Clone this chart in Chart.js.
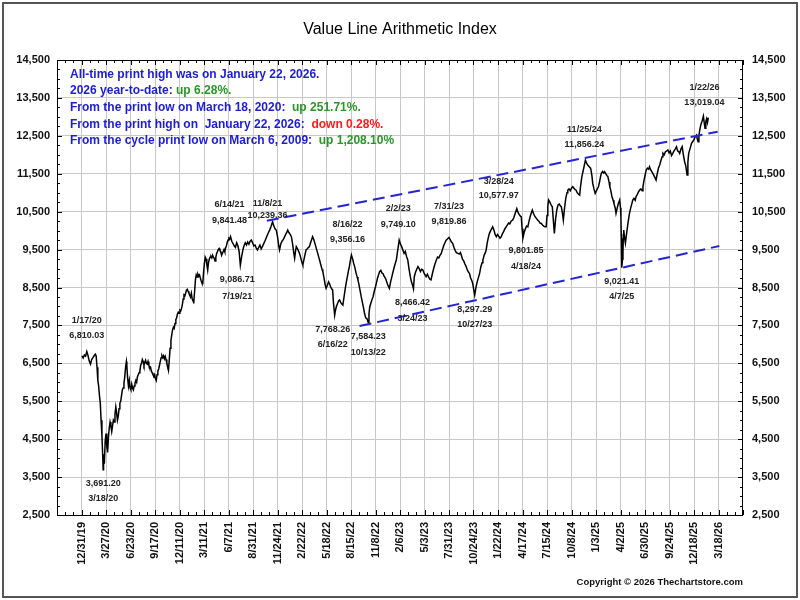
<!DOCTYPE html>
<html>
<head>
<meta charset="utf-8">
<title>Value Line Arithmetic Index</title>
<script src="https://cdn.jsdelivr.net/npm/chart.js@4.4.1/dist/chart.umd.min.js"></script>
<style>
  html, body { margin: 0; padding: 0; background: #fff; }
  canvas { display: block; }
</style>
</head>
<body>
<canvas id="chart" width="800" height="600"></canvas>
<script>
// x axis is counted in trading days from 12/31/19, one labelled tick every 60 sessions
const tickLabels = [
    '12/31/19', '3/27/20', '6/23/20', '9/17/20', '12/11/20', '3/11/21', '6/7/21',
    '8/31/21', '11/24/21', '2/22/22', '5/18/22', '8/15/22', '11/8/22', '2/6/23',
    '5/3/23', '7/31/23', '10/24/23', '1/22/24', '4/17/24', '7/15/24', '10/8/24',
    '1/3/25', '4/2/25', '6/30/25', '9/24/25', '12/18/25', '3/18/26'
];
const yTicks = [2500, 3500, 4500, 5500, 6500, 7500, 8500, 9500, 10500, 11500, 12500, 13500, 14500];

// index closes (trading day -> close)
const days2020a = [
    1, 4, 7, 10, 13, 16, 19, 22, 25, 28,
    31, 34, 36, 38, 40, 42, 44, 46, 48, 50,
    52, 53, 54, 56, 58, 60, 62, 64, 66, 68,
    70, 72, 74, 76, 78, 80, 82, 84, 86, 88,
    90, 92, 94, 96, 98, 100, 102, 104, 106, 108,
    110
];
const close2020a = [
    6700, 6640, 6720, 6690, 6810, 6700, 6560, 6480, 6600, 6650,
    6700, 6740, 6690, 6400, 6050, 5900, 5650, 5450, 5000, 4600,
    4050, 3691, 4100, 3850, 4450, 4650, 4300, 4150, 4550, 4800,
    4950, 4850, 4700, 4850, 5000, 4950, 5150, 5350, 5200, 5000,
    5100, 5300, 5450, 5500, 5650, 5800, 5850, 5980, 6150, 6400,
    6550
];
const days2020b = [
    111, 113, 115, 117, 119, 121, 123, 125, 127, 129,
    131, 133, 135, 137, 139, 141, 143, 145, 147, 149,
    151, 153, 155, 157, 159, 161, 163, 165, 167, 169,
    171, 173, 175, 177, 179, 181, 183, 185, 187, 189,
    191, 193, 195, 197, 199, 201, 203, 205, 207, 209,
    211, 213, 215, 217, 219, 221, 223, 225, 227, 229,
    231, 233, 235, 237, 239, 241, 243, 245, 247, 249,
    251, 253, 255, 257, 259, 261, 263, 265, 267, 269,
    271, 273, 275, 277, 279, 281, 283, 285, 287, 289,
    291, 293, 295, 297, 299, 301, 303, 305, 307, 309,
    311, 313, 315, 317, 319, 321, 323, 325, 327, 329,
    331, 333, 335, 337, 339, 341, 343, 345, 347, 349,
    351, 353, 355, 357, 359, 361, 363
];
const close2020b = [
    6450, 6100, 5900, 6050, 5850, 5800, 5950, 5850, 5800, 5900,
    5980, 6050, 6000, 6150, 6200, 6250, 6300, 6450, 6500, 6600,
    6550, 6450, 6520, 6580, 6500, 6480, 6550, 6450, 6380, 6400,
    6300, 6250, 6200, 6150, 6200, 6100, 6050, 6200, 6300, 6350,
    6450, 6550, 6650, 6700, 6650, 6700, 6620, 6680, 6600, 6500,
    6420, 6320, 6600, 6900, 7100, 7250, 7380, 7450, 7420, 7550,
    7650, 7700, 7800, 7850, 7820, 7900, 7880, 7950, 8050, 8200,
    8300, 8280, 8350, 8430, 8450, 8400, 8350, 8300, 8250, 8350,
    8200, 8150, 8120, 8400, 8700, 8830, 8780, 8850, 8800, 8830,
    8750, 8680, 8620, 8610, 8900, 9150, 9300, 9250, 9100, 8960,
    9150, 9250, 9300, 9320, 9280, 9350, 9300, 9270, 9200, 9300,
    9400, 9450, 9500, 9530, 9480, 9450, 9350, 9400, 9450, 9500,
    9440, 9550, 9600, 9700, 9750, 9800, 9780
];
const days2021 = [
    365, 368, 371, 374, 377, 380, 383, 386, 389, 392,
    395, 398, 401, 404, 407, 410, 413, 416, 419, 422,
    425, 428, 431, 434, 437, 440, 443, 446, 449, 452,
    455, 458, 461, 464, 468, 471, 474, 477, 480, 483,
    485, 488, 491, 494, 497, 500, 503, 505, 508, 511,
    514, 517, 520, 522, 524, 526, 529, 532, 534, 537,
    540, 542, 545, 548, 550, 553, 556, 558, 561, 564,
    566, 569, 572, 575, 578, 581, 583, 586, 589, 591,
    594, 597, 599, 602, 605, 607, 610, 613, 615, 617
];
const close2021 = [
    9841, 9720, 9660, 9600, 9560, 9680, 9600, 9450, 9087, 9300,
    9480, 9600, 9680, 9620, 9700, 9640, 9720, 9750, 9680, 9600,
    9620, 9540, 9490, 9560, 9620, 9520, 9575, 9650, 9720, 9800,
    9880, 9950, 10020, 10100, 10239, 10120, 10050, 10015, 9850, 9600,
    9490, 9650, 9720, 9760, 9830, 9900, 9960, 10015, 9950, 9900,
    9840, 9650, 9400, 9270, 9450, 9575, 9520, 9450, 9400, 9280,
    9150, 9090, 9250, 9400, 9490, 9520, 9560, 9575, 9680, 9780,
    9840, 9760, 9650, 9533, 9420, 9300, 9225, 9100, 8980, 8915,
    8750, 8560, 8478, 8550, 8650, 8610, 8520, 8460, 8433, 8100
];
const days2022 = [
    620, 622, 624, 627, 630, 632, 635, 638, 640, 643,
    646, 648, 651, 654, 656, 659, 661, 664, 667, 669,
    672, 675, 677, 680, 683, 685, 688, 691, 693, 696,
    699, 702, 704, 706, 709, 712, 714, 717, 720, 722,
    725, 728, 730, 733, 736, 738, 741, 744, 746, 749,
    752, 754, 757, 760, 762, 765, 768, 771, 774, 776,
    778, 781, 784, 787, 790, 793, 796, 799, 802, 805,
    808, 811, 813, 815, 818, 821, 824, 827, 830, 833,
    836, 839, 842, 844, 847, 850, 853, 856, 859, 862,
    865, 869, 872, 875, 878, 881, 884, 887, 890, 893,
    896, 900
];
const close2022 = [
    7768, 7900, 7990, 8080, 8150, 8170, 8100, 8060, 8038, 8250,
    8480, 8610, 8780, 8950, 9050, 9250, 9356, 9250, 9120, 9050,
    8900, 8780, 8700, 8550, 8380, 8257, 8100, 7950, 7820, 7700,
    7680, 7584, 7800, 7993, 8100, 8200, 8257, 8400, 8520, 8610,
    8750, 8850, 8915, 8950, 8880, 8873, 8800, 8750, 8700, 8600,
    8520, 8478, 8650, 8780, 8873, 9000, 9120, 9225, 9450, 9600,
    9749, 9650, 9580, 9490, 9400, 9450, 9320, 9225, 9000, 8800,
    8650, 8550, 8466, 8785, 8900, 8980, 9050, 9000, 8920, 8980,
    8960, 8880, 8820, 8785, 8850, 8780, 8720, 8700, 8850, 8980,
    9100, 9225, 9300, 9280, 9350, 9400, 9500, 9600, 9680, 9750,
    9780, 9820
];
const days2023 = [
    903, 906, 909, 912, 915, 918, 922, 925, 928, 930,
    933, 936, 939, 942, 945, 948, 950, 953, 956, 958,
    961, 963, 966, 969, 972, 975, 978, 981, 983, 986,
    989, 991, 994, 997, 999, 1002, 1005, 1007, 1010, 1013,
    1016, 1019, 1022, 1025, 1028, 1031, 1034, 1037, 1040, 1043,
    1046, 1049, 1052, 1056, 1059, 1062, 1066, 1069, 1072, 1075,
    1077, 1079, 1081, 1084, 1087, 1090, 1093, 1096, 1099, 1102,
    1104, 1107, 1110, 1114, 1117, 1120, 1123, 1126, 1129, 1132,
    1135, 1138, 1140, 1142, 1144, 1147, 1150, 1153, 1155, 1158,
    1161, 1164, 1167, 1170, 1173, 1175, 1178, 1180, 1183, 1186,
    1189, 1191, 1194, 1197, 1200, 1203, 1206, 1209, 1211, 1214,
    1217, 1220, 1222, 1225, 1228, 1231, 1234
];
const close2023 = [
    9760, 9700, 9665, 9560, 9480, 9420, 9400, 9380, 9420, 9356,
    9250, 9200, 9120, 9050, 8960, 8900, 8873, 8750, 8680, 8610,
    8420, 8297, 8500, 8650, 8760, 8873, 9050, 9150, 9225, 9350,
    9420, 9490, 9700, 9850, 9928, 10000, 10060, 10100, 10020, 9900,
    9840, 9900, 9850, 9800, 9840, 9920, 9980, 10050, 10100, 10150,
    10200, 10180, 10250, 10280, 10350, 10450, 10578, 10480, 10420, 10380,
    10365, 10050, 9802, 9950, 10050, 10120, 10100, 10250, 10380, 10480,
    10543, 10450, 10380, 10324, 10280, 10250, 10200, 10190, 10150, 10120,
    10100, 10100, 10400, 10650, 10806, 10750, 10680, 10630, 10350, 9928,
    10300, 10550, 10675, 10700, 10650, 10630, 10450, 10280, 10600, 10850,
    11000, 11070, 11100, 11050, 11120, 11157, 11120, 11080, 11070, 11000,
    10960, 10938, 11150, 11400, 11553, 11700, 11856
];
const days2025 = [
    1237, 1240, 1244, 1247, 1250, 1252, 1255, 1258, 1261, 1264,
    1266, 1269, 1271, 1273, 1276, 1279, 1281, 1284, 1287, 1289,
    1292, 1294, 1296, 1299, 1302, 1304, 1307, 1309, 1312, 1315,
    1318, 1320, 1321, 1322, 1323, 1325, 1326, 1327, 1328, 1330,
    1332, 1334, 1336, 1339, 1342, 1345, 1348, 1350, 1353, 1356,
    1358, 1361, 1364, 1367, 1370, 1373, 1375, 1378, 1381, 1383,
    1386, 1389, 1391, 1394, 1397, 1399, 1402, 1405, 1407, 1410,
    1413, 1416, 1419, 1422, 1424, 1427, 1430, 1433, 1436, 1439,
    1442, 1445, 1448, 1451, 1454, 1457, 1460, 1463, 1465, 1468,
    1471, 1474, 1477, 1480, 1483, 1485, 1487, 1490, 1494, 1497,
    1500, 1503, 1506, 1508, 1510, 1512, 1514, 1517, 1520, 1523,
    1525, 1527, 1529, 1531, 1533, 1535
];
const close2025 = [
    11780, 11720, 11680, 11640, 11450, 11245, 11100, 10983, 11050, 11120,
    11157, 11300, 11420, 11510, 11560, 11520, 11553, 11500, 11450, 11421,
    11280, 11150, 11070, 10900, 10800, 10718, 10600, 10455, 10600, 10720,
    10806, 10600, 10365, 9800, 9021, 9250, 9400, 9900, 10015, 9800,
    9665, 9850, 10015, 10250, 10455, 10600, 10720, 10806, 10850, 10800,
    10894, 10950, 11020, 11070, 11100, 11050, 11157, 11350, 11500, 11597,
    11650, 11620, 11685, 11600, 11550, 11510, 11450, 11380, 11333, 11500,
    11650, 11729, 11850, 11950, 12038, 12000, 12080, 12100, 12125, 12050,
    12100, 11980, 12038, 12100, 12150, 12212, 12100, 12080, 12038, 12150,
    12212, 12000, 11817, 11700, 11466, 11800, 12038, 12150, 12302, 12350,
    12400, 12480, 12520, 12420, 12345, 12500, 12652, 12800, 12900, 13019,
    12850, 12700, 12880, 12950, 12850, 12982
];

// channel lines
const upperDays = [454, 1558];
const upperVals = [10260, 12610];
const lowerDays = [681, 1562];
const lowerVals = [7484, 9594];

// labelled turning points
const noteDays   = [13, 53, 365, 468, 389, 620, 661, 702, 778, 813, 900, 963, 1066, 1081, 1234, 1323, 1523];
const noteCloses = [6810, 3691, 9841, 10239, 9087, 7768, 9356, 7584, 9749, 8466, 9820, 8297, 10578, 9802, 11856, 9021, 13019];
const noteDates  = ['1/17/20', '3/18/20', '6/14/21', '11/8/21', '7/19/21', '6/16/22', '8/16/22', '10/13/22',
                    '2/2/23', '3/24/23', '7/31/23', '10/27/23', '3/28/24', '4/18/24', '11/25/24', '4/7/25', '1/22/26'];
const noteValues = ['6,810.03', '3,691.20', '9,841.48', '10,239.36', '9,086.71', '7,768.26', '9,356.16', '7,584.23',
                    '9,749.10', '8,466.42', '9,819.86', '8,297.29', '10,577.97', '9,801.85', '11,856.24', '9,021.41', '13,019.04'];

// layout of the notes: above/below the point, pixel nudges
const notePlace = [
    { above: true,  dx: 0,   gap: 0 },   // 1/17/20
    { above: false, dx: 0,   gap: 0 },   // 3/18/20
    { above: true,  dx: -1,  gap: 1 },   // 6/14/21
    { above: true,  dx: -5,  gap: -3, dy: 10 }, // 11/8/21
    { above: false, dx: -3,  gap: 2 },   // 7/19/21
    { above: false, dx: -2,  gap: 0 },   // 6/16/22
    { above: true,  dx: -4,  gap: 0 },   // 8/16/22
    { above: false, dx: 0,   gap: 1 },   // 10/13/22
    { above: true,  dx: -1,  gap: 1 },   // 2/2/23
    { above: false, dx: -1,  gap: 1 },   // 3/24/23
    { above: true,  dx: 0,   gap: 0 },   // 7/31/23
    { above: false, dx: 0,   gap: 0 },   // 10/27/23
    { above: true,  dx: -18, gap: -1, dy: 3 }, // 3/28/24
    { above: false, dx: 3,   gap: 1, dy: -2 }, // 4/18/24
    { above: true,  dx: -1,  gap: 0 },   // 11/25/24
    { above: false, dx: 0,   gap: 0 },   // 4/7/25
    { above: true,  dx: 1,   gap: 0, dy: 2 }  // 1/22/26
];

const infoLines = [
    [['All-time print high was on January 22, 2026.', 'b']],
    [['2026 year-to-date: ', 'b'], ['up 6.28%.', 'g']],
    [['From the print low on March 18, 2020:  ', 'b'], ['up 251.71%.', 'g']],
    [['From the print high on  January 22, 2026:  ', 'b'], ['down 0.28%.', 'r']],
    [['From the cycle print low on March 6, 2009:  ', 'b'], ['up 1,208.10%', 'g']]
];

const FONT = '"Liberation Sans", Arial, Helvetica, sans-serif';
const BLUE = '#2424d4';
const inkColors = { b: '#1c1cd0', g: '#2a962a', r: '#ff1c1c' };

function zip(xs, ys) {
    return xs.map((x, i) => ({ x: x, y: ys[i] }));
}

const days = [].concat(days2020a, days2020b, days2021, days2022, days2023, days2025);
const closes = [].concat(close2020a, close2020b, close2021, close2022, close2023, close2025);

const decor = {
    id: 'decor',
    beforeDraw(chart) {
        const ctx = chart.ctx;
        ctx.save();
        ctx.fillStyle = '#fff';
        ctx.fillRect(0, 0, chart.width, chart.height);
        ctx.restore();
    },
    afterDraw(chart) {
        const { ctx, chartArea: a, scales } = chart;
        const x = scales.x, y = scales.y;
        ctx.save();

        // plot frame
        ctx.strokeStyle = '#000';
        ctx.lineWidth = 1;
        ctx.strokeRect(Math.round(a.left) + 0.5, Math.round(a.top) + 0.5,
            Math.round(a.right - a.left) - 1, Math.round(a.bottom - a.top));

        // small tick marks on all four sides
        ctx.beginPath();
        for (let d = -60; d <= 1620; d += 20) {
            const px = Math.round(x.getPixelForValue(d)) + 0.5;
            const len = d % 60 === 0 ? 5 : 3;
            ctx.moveTo(px, a.bottom); ctx.lineTo(px, a.bottom - len);
            ctx.moveTo(px, a.top); ctx.lineTo(px, a.top + len);
        }
        for (let v = 2500; v <= 14500; v += 250) {
            const py = Math.round(y.getPixelForValue(v)) + 0.5;
            const len = (v - 2500) % 1000 === 0 ? 5 : 3;
            ctx.moveTo(a.left, py); ctx.lineTo(a.left + len, py);
            ctx.moveTo(a.right, py); ctx.lineTo(a.right - len, py);
        }
        ctx.stroke();

        // title
        ctx.fillStyle = '#000';
        ctx.textAlign = 'center';
        ctx.textBaseline = 'middle';
        ctx.font = '16px ' + FONT;
        ctx.fillText('Value Line Arithmetic Index', 400, 30);

        // notes at turning points
        ctx.font = 'bold 9px ' + FONT;
        ctx.fillStyle = '#222';
        noteDays.forEach((d, i) => {
            const p = notePlace[i];
            const px = x.getPixelForValue(d) + p.dx;
            const py = y.getPixelForValue(noteCloses[i]) + (p.dy || 0);
            if (p.above) {
                ctx.fillText(noteDates[i], px, py - 31 - p.gap);
                ctx.fillText(noteValues[i], px, py - 16);
            } else {
                ctx.fillText(noteValues[i], px, py + 14);
                ctx.fillText(noteDates[i], px, py + 29 + p.gap);
            }
        });

        // performance box
        ctx.textAlign = 'left';
        ctx.font = 'bold 12px ' + FONT;
        infoLines.forEach((parts, i) => {
            let tx = 70;
            const ty = 74.5 + i * 16.6;
            parts.forEach(([txt, c]) => {
                ctx.fillStyle = inkColors[c];
                ctx.fillText(txt, tx, ty);
                tx += ctx.measureText(txt).width;
            });
        });

        // copyright
        ctx.fillStyle = '#111';
        ctx.textAlign = 'right';
        ctx.font = 'bold 9.5px ' + FONT;
        ctx.fillText('Copyright \u00a9 2026 Thechartstore.com', 743, 582);

        // outer frame
        ctx.strokeStyle = '#555';
        ctx.lineWidth = 2;
        ctx.strokeRect(3, 3, 794, 594);

        if (days.length !== closes.length) {
            ctx.fillStyle = 'red';
            ctx.fillText('length mismatch ' + days.length + '/' + closes.length, 700, 300);
        }
        ctx.restore();
    }
};

const tickFont = { family: FONT, size: 11, weight: 'bold' };

new Chart(document.getElementById('chart'), {
    type: 'line',
    data: {
        datasets: [
            {
                label: 'Upper channel',
                data: zip(upperDays, upperVals),
                borderColor: BLUE,
                borderWidth: 2,
                borderDash: [12, 6],
                pointRadius: 0
            },
            {
                label: 'Lower channel',
                data: zip(lowerDays, lowerVals),
                borderColor: BLUE,
                borderWidth: 2,
                borderDash: [12, 6],
                pointRadius: 0
            },
            {
                label: 'Value Line Arithmetic Index',
                data: zip(days, closes),
                borderColor: '#000',
                borderWidth: 1.5,
                pointRadius: 0,
                tension: 0
            }
        ]
    },
    options: {
        responsive: false,
        animation: false,
        devicePixelRatio: 1,
        layout: { padding: { top: 60, left: 0, right: 0, bottom: 0 } },
        plugins: {
            legend: { display: false },
            tooltip: { enabled: false }
        },
        scales: {
            x: {
                type: 'linear',
                min: -60,
                max: 1620,
                afterBuildTicks(scale) {
                    scale.ticks = tickLabels.map((_, i) => ({ value: i * 60 }));
                },
                afterFit(scale) { scale.height = 85; },
                ticks: {
                    autoSkip: false,
                    minRotation: 90,
                    maxRotation: 90,
                    padding: 7,
                    color: '#111',
                    font: tickFont,
                    callback: (v) => tickLabels[Math.round(v / 60)] || ''
                },
                grid: { color: '#c8c8c8', lineWidth: 1, drawTicks: false },
                border: { display: false }
            },
            y: {
                position: 'left',
                min: 2500,
                max: 14500,
                afterBuildTicks(scale) {
                    scale.ticks = yTicks.map(v => ({ value: v }));
                },
                afterFit(scale) { scale.width = 57; },
                ticks: {
                    padding: 7,
                    color: '#111',
                    font: tickFont,
                    callback: (v) => v.toLocaleString('en-US')
                },
                grid: { color: '#c8c8c8', lineWidth: 1, drawTicks: false },
                border: { display: false }
            },
            y2: {
                position: 'right',
                min: 2500,
                max: 14500,
                afterBuildTicks(scale) {
                    scale.ticks = yTicks.map(v => ({ value: v }));
                },
                afterFit(scale) { scale.width = 57; },
                ticks: {
                    padding: 9,
                    color: '#111',
                    font: tickFont,
                    callback: (v) => v.toLocaleString('en-US')
                },
                grid: { display: false, drawTicks: false },
                border: { display: false }
            }
        }
    },
    plugins: [decor]
});
</script>
</body>
</html>
